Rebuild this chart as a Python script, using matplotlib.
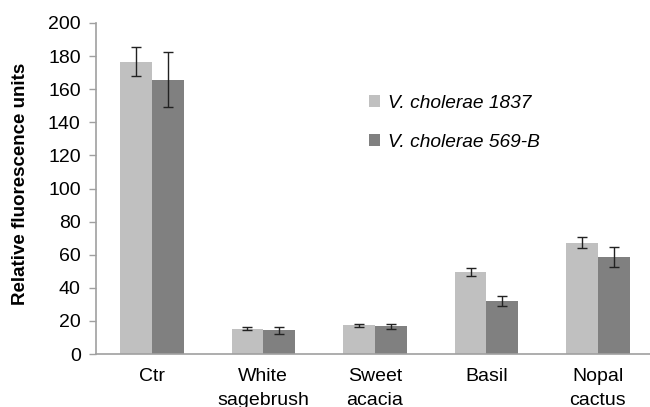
import matplotlib
matplotlib.use("Agg")
import matplotlib.pyplot as plt
import numpy as np
from matplotlib.patches import Patch

plt.rcParams['font.family'] = ['Liberation Sans', 'DejaVu Sans']

categories = ["Ctr", "White\nsagebrush", "Sweet\nacacia", "Basil", "Nopal\ncactus"]
series_names = ["V. cholerae 1837", "V. cholerae 569-B"]
vals_1837 = [176.5, 15.3, 17.3, 49.5, 67.3]
err_1837 = [8.8, 1.0, 1.0, 2.6, 3.5]
vals_569b = [165.8, 14.3, 16.7, 31.8, 58.8]
err_569b = [16.6, 2.0, 1.7, 3.0, 6.0]
yticks = [0, 20, 40, 60, 80, 100, 120, 140, 160, 180, 200]

colors = ["#c0c0c0", "#808080"]

fig = plt.figure(figsize=(6.5, 4.07), dpi=100)
ax = fig.add_axes([0.1477, 0.1302, 0.858, 0.8133])

x = np.arange(len(categories))
w = 0.285
ekw = dict(ecolor="#222222", elinewidth=1.0, capsize=3.5, capthick=1.0)
ax.bar(x - w / 2, vals_1837, w, color=colors[0], yerr=err_1837, error_kw=ekw, zorder=2)
ax.bar(x + w / 2, vals_569b, w, color=colors[1], yerr=err_569b, error_kw=ekw, zorder=2)

ax.set_xlim(-0.5, len(categories) - 0.5)
ax.set_ylim(0, 200)
ax.set_yticks(yticks)
ax.set_xticks(x)
ax.set_xticklabels(categories, fontsize=14, linespacing=1.55, va="top")
ax.tick_params(axis="x", length=0, pad=10)
ax.tick_params(axis="y", labelsize=14, length=5, width=1, color="#a0a0a0", pad=6)

for s in ["top", "right"]:
    ax.spines[s].set_visible(False)
for s in ["left", "bottom"]:
    ax.spines[s].set_color("#a0a0a0")
    ax.spines[s].set_linewidth(1.2)

ax.set_ylabel("Relative fluorescence units", fontsize=13.5, fontweight="bold")
ax.yaxis.set_label_coords(-0.12, 0.515)

handles = [Patch(facecolor=colors[0]), Patch(facecolor=colors[1])]
leg = fig.legend(handles, series_names, loc="upper left", bbox_to_anchor=(0.541, 0.81),
                 frameon=False, prop={"style": "italic", "size": 13.8},
                 handlelength=0.6, handleheight=0.6, handletextpad=0.4, labelspacing=1.15)

fig.savefig("out.png", dpi=100)
